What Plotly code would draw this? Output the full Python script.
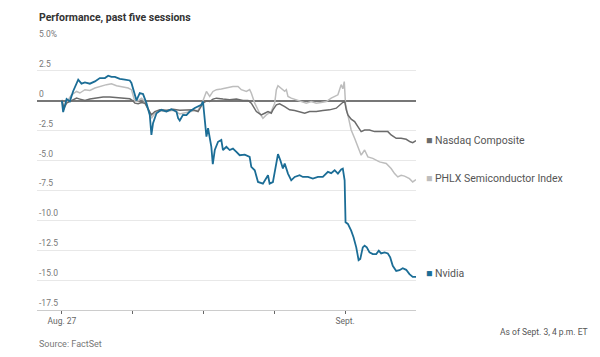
import plotly.graph_objects as go

# Elapsed trading minutes since Aug. 27 open (5 sessions x 390 min)
nvda_t = [0, 7, 26, 44, 62, 90, 108, 127, 154, 182, 209, 237, 255, 273, 292, 319, 347, 374, 383,
          402, 411, 429, 447, 466, 484, 493, 502, 521, 548, 576, 603, 631, 640, 649, 667, 686, 704,
          732, 750, 768, 777, 784, 790, 796, 805, 823, 831, 842, 860, 878, 887, 906, 924, 942, 961,
          979, 1007, 1034, 1043, 1062, 1080, 1107, 1135, 1144, 1162, 1181, 1190, 1203, 1217, 1227,
          1245, 1263, 1282, 1309, 1327, 1355, 1382, 1410, 1437, 1465, 1483, 1502, 1520, 1538, 1547,
          1557, 1562, 1575, 1593, 1606, 1621, 1634, 1643, 1657, 1667, 1679, 1694, 1712, 1731, 1745,
          1758, 1777, 1795, 1808, 1822, 1841, 1859, 1877, 1896, 1914, 1932, 1950]
nvda_v = [0.0, -0.95, 0.15, -0.05, 0.8, 1.77, 1.43, 1.54, 1.43, 1.62, 1.9, 1.9, 2.1, 2.0, 2.0, 1.83,
          1.77, 1.7, 1.49, 0.36, 0.03, 0.65, 0.56, -0.2, -1.18, -2.86, -1.88, -1.04, -0.76, -0.9,
          -0.7, -0.9, -1.46, -1.65, -1.18, -1.2, -0.9, -0.6, -0.5, -0.34, -0.06, -1.0, -2.16, -3.0,
          -2.3, -3.85, -5.3, -4.12, -3.43, -3.28, -4.12, -3.85, -4.12, -4.0, -4.27, -4.55, -4.5,
          -4.69, -5.53, -5.81, -6.79, -6.93, -6.23, -6.93, -6.8, -5.25, -4.46, -4.97, -5.67, -5.25,
          -6.09, -6.65, -6.37, -6.23, -6.37, -6.37, -6.5, -6.37, -6.37, -5.95, -6.05, -5.81, -6.09,
          -5.75, -5.67, -6.65, -10.16, -10.3, -10.86, -11.42, -12.26, -13.33, -13.24, -12.26,
          -12.12, -12.26, -12.68, -12.82, -12.82, -12.54, -12.77, -12.68, -12.77, -13.1, -13.8,
          -14.23, -14.17, -14.0, -14.14, -14.5, -14.73, -14.73]

nasdaq_t = [0, 11, 26, 53, 81, 99, 127, 154, 191, 227, 264, 319, 374, 391, 402, 420, 438, 457, 475,
            493, 512, 539, 576, 612, 649, 686, 722, 750, 777, 796, 814, 832, 851, 887, 924, 961, 997,
            1025, 1043, 1071, 1098, 1117, 1135, 1153, 1162, 1181, 1199, 1227, 1254, 1282, 1309,
            1337, 1364, 1401, 1437, 1474, 1511, 1538, 1551, 1557, 1566, 1575, 1593, 1612, 1630,
            1648, 1667, 1694, 1722, 1749, 1777, 1795, 1813, 1841, 1868, 1896, 1918, 1932, 1950]
nasdaq_v = [0.08, -0.6, -0.2, 0.0, 0.22, 0.14, 0.02, 0.14, 0.22, 0.31, 0.31, 0.22, 0.17, 0.0, -0.2,
            -0.25, -0.14, -0.2, -0.7, -1.18, -0.9, -0.76, -0.8, -0.7, -0.8, -0.76, -0.76, -0.9,
            -0.2, 0.0, -0.06, 0.14, 0.22, 0.14, 0.08, 0.14, 0.03, 0.03, -0.2, -0.9, -1.18, -1.04,
            -0.9, -1.04, -0.76, -0.34, -0.25, -0.48, -0.76, -0.82, -0.9, -1.04, -0.9, -0.9, -0.82,
            -0.76, -0.62, -0.25, -0.1, 0.0, -0.76, -1.18, -1.54, -1.74, -2.16, -2.58, -2.44, -2.44,
            -2.58, -2.58, -2.55, -2.58, -2.86, -3.14, -3.14, -3.22, -3.43, -3.5, -3.34]

phlx_t = [0, 11, 26, 53, 81, 99, 127, 154, 182, 209, 246, 273, 301, 337, 365, 383, 402, 420, 438,
          457, 475, 493, 512, 539, 576, 612, 649, 686, 722, 750, 777, 796, 814, 832, 851, 878, 906,
          942, 970, 988, 1016, 1034, 1043, 1062, 1089, 1107, 1126, 1153, 1172, 1181, 1190, 1208,
          1227, 1236, 1245, 1263, 1291, 1318, 1346, 1373, 1401, 1428, 1456, 1483, 1502, 1520, 1529,
          1538, 1547, 1555, 1562, 1575, 1593, 1612, 1630, 1648, 1667, 1685, 1712, 1749, 1786, 1813,
          1832, 1850, 1868, 1887, 1914, 1932, 1950]
phlx_v = [0.0, -0.76, -0.14, 0.5, 0.78, 0.65, 0.93, 0.87, 1.07, 1.2, 1.35, 1.43, 1.26, 1.15, 1.07,
          0.93, -0.06, 0.0, 0.22, -0.06, -0.76, -1.46, -1.04, -0.85, -0.9, -0.8, -1.1, -0.95, -0.85,
          -0.8, 0.0, 0.78, 0.36, 0.78, 0.93, 0.98, 1.07, 1.2, 1.2, 0.93, 0.78, 0.93, 0.65, -0.2,
          -1.04, -1.46, -1.18, -0.9, -0.2, 0.93, 1.26, 1.07, 0.8, 0.93, 0.36, 0.22, 0.08, -0.06,
          -0.2, -0.06, -0.2, -0.14, -0.06, 0.22, 0.36, 0.5, 0.93, 1.35, 1.0, 1.6, -0.3, -1.32,
          -2.44, -3.14, -3.85, -4.55, -4.12, -4.69, -4.82, -5.11, -5.25, -5.67, -6.09, -6.37, -6.23,
          -6.3, -6.51, -6.79, -6.6]

series_names = ["Nasdaq Composite", "PHLX Semiconductor Index", "Nvidia"]
series_colors = ["#6b6b6b", "#bdbdbd", "#1b6d96"]

x_tickvals = [0, 390, 780, 1170, 1560]
x_ticktext = ["Aug. 27", "", "", "", "Sept."]
y_tickvals = [5.0, 2.5, 0, -2.5, -5.0, -7.5, -10.0, -12.5, -15.0, -17.5]
y_ticktext = ["5.0%", "2.5", "0", "-2.5", "-5.0", "-7.5", "-10.0", "-12.5", "-15.0", "-17.5"]

FONT = "Roboto, Liberation Sans, sans-serif"

fig = go.Figure()
fig.add_trace(go.Scatter(x=phlx_t, y=phlx_v, mode="lines", name=series_names[1],
                         line=dict(color=series_colors[1], width=1.5)))
fig.add_trace(go.Scatter(x=nasdaq_t, y=nasdaq_v, mode="lines", name=series_names[0],
                         line=dict(color=series_colors[0], width=1.5)))
fig.add_trace(go.Scatter(x=nvda_t, y=nvda_v, mode="lines", name=series_names[2],
                         line=dict(color=series_colors[2], width=1.8)))

annotations = []
for v, txt in zip(y_tickvals, y_ticktext):
    annotations.append(dict(xref="paper", yref="y", x=0, y=v, text=txt, showarrow=False,
                            xanchor="left", yanchor="bottom", yshift=0,
                            font=dict(family=FONT, size=8.5, color="#777777")))

ends = [(nasdaq_v[-1], 0, 0), (phlx_v[-1], 1, 1), (nvda_v[-1], 2, 3)]
for v, i, ys in ends:
    annotations.append(dict(xref="paper", yref="y", x=1, y=v, xshift=8, yshift=ys, showarrow=False,
                            xanchor="left", yanchor="middle",
                            text=f'<span style="color:{series_colors[i]}">■</span> {series_names[i]}',
                            font=dict(family=FONT, size=10.5, color="#555555")))

annotations.append(dict(xref="paper", yref="paper", x=0, y=1, yshift=24,
                        text="<b>Performance, past five sessions</b>",
                        showarrow=False, xanchor="left", yanchor="middle",
                        font=dict(family=FONT, size=10.5, color="#333333")))
annotations.append(dict(xref="paper", yref="paper", x=0, y=0, yshift=-34, text="Source: FactSet",
                        showarrow=False, xanchor="left", yanchor="middle",
                        font=dict(family=FONT, size=9, color="#777777")))
annotations.append(dict(xref="paper", yref="paper", x=1, xshift=174, y=0, yshift=-22,
                        text="As of Sept. 3, 4 p.m. ET", showarrow=False, xanchor="right",
                        yanchor="middle", font=dict(family=FONT, size=8.5, color="#555555")))

# page body adds an 8px margin, so the figure is drawn 8px smaller and offset
fig.update_layout(
    width=592, height=349,
    margin=dict(l=29, r=184, t=33, b=47),
    paper_bgcolor="white", plot_bgcolor="white",
    showlegend=False,
    annotations=annotations,
    font=dict(family=FONT),
    xaxis=dict(range=[-137, 1950], tickvals=x_tickvals, ticktext=x_ticktext, showgrid=False,
               zeroline=False, showline=True, linecolor="#cccccc", linewidth=1,
               ticks="outside", ticklen=3, tickcolor="#666666", tickwidth=1,
               tickfont=dict(family=FONT, size=8.5, color="#666666")),
    yaxis=dict(range=[-17.5, 5.0], tickvals=y_tickvals, showticklabels=False, showgrid=True,
               gridcolor="#e8e8e8", gridwidth=1, zeroline=True, zerolinecolor="#777777",
               zerolinewidth=1.5),
)

fig.write_html("out.html")
